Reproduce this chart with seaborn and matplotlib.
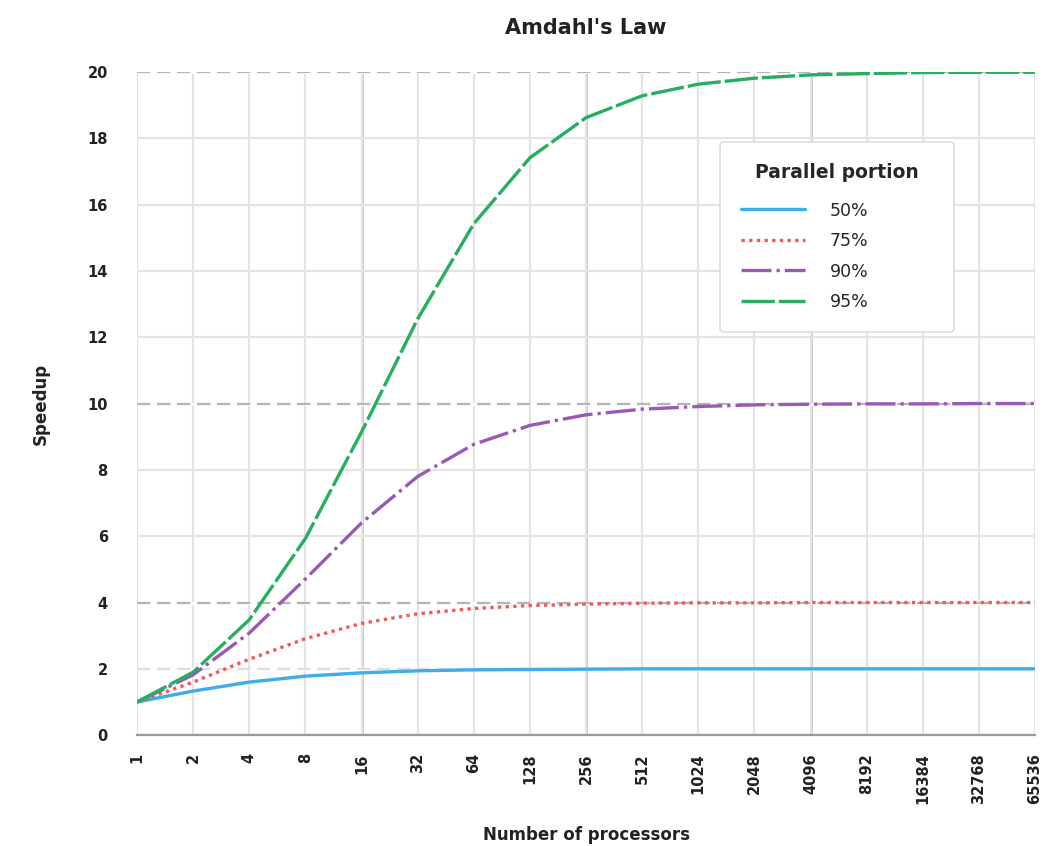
import pandas as pd
import seaborn as sns
import matplotlib.pyplot as plt

processors = [1, 2, 4, 8, 16, 32, 64, 128, 256, 512, 1024, 2048,
              4096, 8192, 16384, 32768, 65536]
tick_labels = [str(n) for n in processors]

# speedup, one list per parallel portion
speedup_50 = [1.0, 1.33, 1.6, 1.78, 1.88, 1.94, 1.97, 1.98, 1.99, 2.0, 2.0,
              2.0, 2.0, 2.0, 2.0, 2.0, 2.0]
speedup_75 = [1.0, 1.6, 2.29, 2.91, 3.37, 3.66, 3.82, 3.91, 3.95, 3.98, 3.99,
              3.99, 4.0, 4.0, 4.0, 4.0, 4.0]
speedup_90 = [1.0, 1.82, 3.08, 4.71, 6.4, 7.8, 8.77, 9.34, 9.66, 9.83, 9.91,
              9.96, 9.98, 9.99, 9.99, 10.0, 10.0]
speedup_95 = [1.0, 1.9, 3.48, 5.93, 9.14, 12.55, 15.42, 17.41, 18.62, 19.28,
              19.63, 19.81, 19.91, 19.95, 19.98, 19.99, 19.99]

portions = ["50%", "75%", "90%", "95%"]

df = pd.concat([
    pd.DataFrame({"processors": processors, "speedup": s, "portion": p})
    for p, s in zip(portions, [speedup_50, speedup_75, speedup_90, speedup_95])
])

colors = {"50%": "#3daee9", "75%": "#f05a5a", "90%": "#9b59b6", "95%": "#27ae60"}
dashes = {"50%": "", "75%": (1, 1.3), "90%": (9, 1.5, 1, 1.5), "95%": (10, 1.2)}

sns.set_style("white")
plt.rcParams["font.family"] = ["DejaVu Sans"]

fig = plt.figure(figsize=(10.62, 8.46), dpi=100)
ax = fig.add_axes([0.129, 0.131, 0.8456, 0.784])

ax.set_xscale("log", base=2)
ax.set_xlim(1, 65536)
ax.set_ylim(0, 20)

# grid
ax.set_xticks(processors)
ax.set_xticklabels(tick_labels, rotation=90, fontsize=10.5, fontweight="bold",
                   color="#222222")
ax.minorticks_off()
ax.set_yticks(range(0, 21, 2))
ax.set_yticklabels([str(v) for v in range(0, 21, 2)], fontsize=10.5,
                   fontweight="bold", color="#222222")
ax.grid(True, color="#e4e4e4", linewidth=1.6, zorder=0)
for n in [16, 256, 4096]:
    ax.axvline(n, color="#b8b8b8", linewidth=1.8, zorder=0.5)
for v, c in [(2, "#dedede"), (4, "#b5b5b5"), (10, "#b5b5b5"), (20, "#b5b5b5")]:
    ax.axhline(v, color="#ffffff", linewidth=2.2, zorder=0.6)
    ax.axhline(v, color=c, linewidth=1.6, dashes=(6, 3), zorder=0.7)
ax.tick_params(axis="x", length=9, color="#d0d0d0", width=1.6, pad=4)
ax.tick_params(axis="y", length=7, color="#e4e4e4", width=1.6, pad=14)

sns.lineplot(data=df, x="processors", y="speedup", hue="portion", style="portion",
             palette=colors, dashes=dashes, linewidth=2.4, ax=ax, zorder=3)

for s in ["top", "right", "left"]:
    ax.spines[s].set_visible(False)
ax.spines["bottom"].set_color("#999999")
ax.spines["bottom"].set_linewidth(1.6)

ax.set_title("Amdahl's Law", fontsize=15, fontweight="bold", pad=27, color="#222222")
ax.set_xlabel("Number of processors", fontsize=12, fontweight="bold", labelpad=16,
              color="#222222")
ax.set_ylabel("Speedup", fontsize=12, fontweight="bold", labelpad=27, color="#222222")

leg = ax.legend(title="Parallel portion", loc="upper left",
                bbox_to_anchor=(0.640, 0.611, 0.279, 0.296), mode="expand",
                fontsize=12.5, title_fontsize=13.5,
                frameon=True, fancybox=True, handlelength=3.7, labelspacing=0.72,
                borderpad=1.2, handletextpad=1.4, edgecolor="#dddddd", framealpha=1)
leg.get_title().set_fontweight("bold")
leg.get_frame().set_linewidth(1.2)
leg._legend_box.sep += 5  # a bit more room under the legend title

plt.savefig("out.png", dpi=100)
